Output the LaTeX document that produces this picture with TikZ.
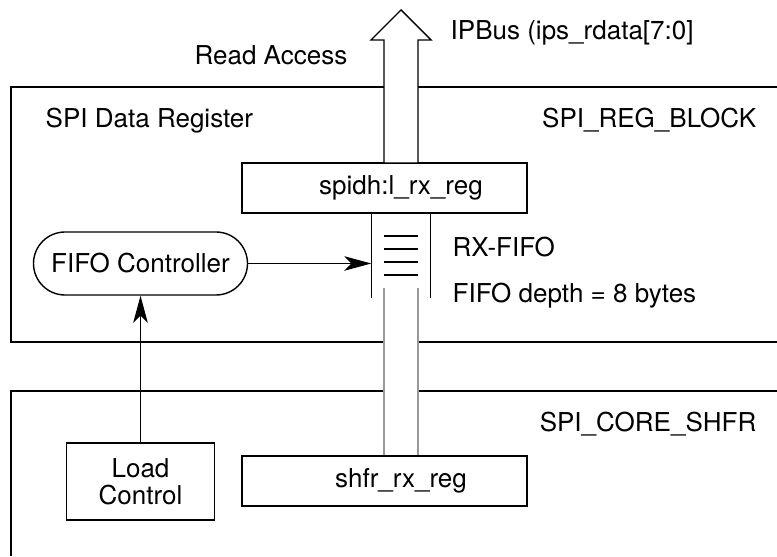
\documentclass[tikz,border=0pt]{standalone}
\usepackage{fontspec}
\setmainfont{TeX Gyre Heros}
\usetikzlibrary{arrows.meta}

\begin{document}
\begin{tikzpicture}[
		font=\fontsize{14.8}{15.5}\selectfont,
		line width=0.8pt,
		regbox/.style={draw, rectangle, minimum height=1cm, inner sep=0pt},
		lbl/.style={inner sep=0pt},
		busline/.style={draw=black!40, line width=0.8pt},
		tip/.style={-{Stealth[length=0.54cm, width=0.29cm, inset=0.14cm]}}
	]
		\useasboundingbox (0,0) rectangle (15.54,11.12);
		% outer blocks, cut off on the right
		\draw (15.54,9.38) -- (0.22,9.38) -- (0.22,4.28) -- (15.54,4.28);
		\draw (15.54,3.30) -- (0.22,3.30) -- (0.22,0);
		\node[lbl, anchor=base west] (regtitle) at (0.90,8.56) {SPI Data Register};
		\node[lbl, anchor=base east] (regblock) at (15.14,8.56) {SPI\_REG\_BLOCK};
		\node[lbl, anchor=base east] (coreblock) at (15.14,2.48) {SPI\_CORE\_SHFR};
		\node[regbox, minimum width=5.7cm] (spidh) at (7.69,7.36) {\hspace*{0.66cm}spidh:l\_rx\_reg};
		\node[regbox, minimum width=5.7cm] (shfr) at (7.69,1.50) {\hspace*{0.66cm}shfr\_rx\_reg};
		\node[inner sep=0pt, minimum width=1.16cm, minimum height=1.68cm] (fifo) at (8.02,6.02) { };
		\node[draw, rectangle, rounded corners=0.63cm, minimum width=4.28cm, minimum height=1.26cm] (fifoctl) at (2.81,5.85) {FIFO Controller};
		\node[regbox, minimum width=2.96cm, minimum height=1.54cm, align=center] (load) at (2.81,1.49) {Load\\Control};
		\node[lbl, anchor=base west] (rxfifo) at (9.04,5.98) {RX-FIFO};
		\node[lbl, anchor=base west] (depth) at (9.04,5.06) {FIFO depth = 8 bytes};
		\node[lbl, anchor=base east] (readacc) at (6.96,9.82) {Read Access};
		\node[lbl, anchor=base west] (ipbus) at (9.00,10.32) {IPBus (ips\_rdata[7:0]};
		% read bus out of the register
		\draw[fill=white] (7.68,7.86) -- (7.68,10.32) -- (7.42,10.32) -- (8.02,10.92)
			-- (8.62,10.32) -- (8.36,10.32) -- (8.36,7.86) -- cycle;
		% fifo stack
		\draw (fifo.north west) -- (fifo.south west);
		\draw (fifo.north east) -- (fifo.south east);
		\foreach \y in {6.40,6.14,5.88,5.62}
			\draw (7.68,\y) -- (8.36,\y);
		% bus from the shifter up into the fifo
		\coordinate (busL) at (7.68,5.36);
		\coordinate (busR) at (8.36,5.36);
		\fill[white] (busL) rectangle (busR |- shfr.north);
		\draw[busline] (busL) -- (busL |- shfr.north);
		\draw[busline] (busR) -- (busR |- shfr.north);
		\draw[tip] (fifoctl.east) -- (fifoctl.east -| fifo.west);
		\draw[tip] (load.north) -- (fifoctl.south);
\end{tikzpicture}
\end{document}
